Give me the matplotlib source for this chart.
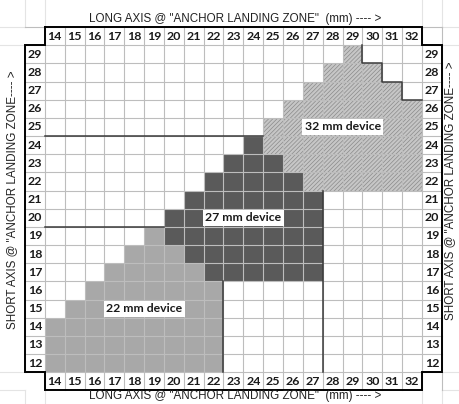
import matplotlib
matplotlib.use("Agg")
import matplotlib.pyplot as plt

# long axis columns (mm) and short axis rows (mm)
long_ticks = list(range(14, 33))
short_ticks = list(range(12, 30))

# 22 mm device cells: row -> first..last column
light_rows = [12, 13, 14, 15, 16, 17, 18, 19]
light_start = [14, 14, 14, 15, 16, 17, 18, 19]
light_end = [22, 22, 22, 22, 22, 21, 20, 19]

# 27 mm device cells
dark_rows = [17, 18, 19, 20, 21, 22, 23, 24]
dark_start = [22, 21, 20, 20, 21, 22, 23, 24]
dark_end = [27, 27, 27, 27, 27, 26, 25, 24]

# 32 mm device cells
hatch_rows = [22, 23, 24, 25, 26, 27, 28, 29]
hatch_start = [27, 26, 25, 25, 26, 27, 28, 29]
hatch_end = [32, 32, 32, 32, 32, 31, 30, 29]

devices = ["22 mm device", "27 mm device", "32 mm device"]
device_pos = [(18.5, 15), (23.5, 20), (28.5, 25)]

long_title = 'LONG AXIS @ "ANCHOR LANDING ZONE"  (mm) ---- >'
short_title = 'SHORT AXIS @ "ANCHOR LANDING ZONE---- >'

plt.rcParams['hatch.color'] = '#8a8a8a'
plt.rcParams['hatch.linewidth'] = 0.5

fig = plt.figure(figsize=(4.59, 4.04), dpi=100)
ax = fig.add_axes([0, 0, 1, 1])
ax.set_xlim(11.241, 34.364)
ax.set_ylim(9.752, 31.986)
ax.axis('off')

x0, x1 = long_ticks[0] - 0.5, long_ticks[-1] + 0.5
y0, y1 = short_ticks[0] - 0.5, short_ticks[-1] + 0.5

# faint spreadsheet gridlines outside the table
faint = '#e4e4e4'
for xv in [x0 - 1, x0, x1, x1 + 1]:
    ax.plot([xv, xv], [y1 + 1, 31.986], color=faint, lw=0.8, zorder=0)
    ax.plot([xv, xv], [9.752, y0 - 1], color=faint, lw=0.8, zorder=0)
for yv in [y1 + 1, y1, y0, y0 - 1]:
    ax.plot([11.241, x0 - 1], [yv, yv], color=faint, lw=0.8, zorder=0)
    ax.plot([x1 + 1, 34.364], [yv, yv], color=faint, lw=0.8, zorder=0)

# filled device areas
ax.barh(light_rows, [e - s + 1 for s, e in zip(light_start, light_end)],
        left=[s - 0.5 for s in light_start], height=1, color='#a8a8a8', zorder=1)
ax.barh(dark_rows, [e - s + 1 for s, e in zip(dark_start, dark_end)],
        left=[s - 0.5 for s in dark_start], height=1, color='#5a5a5a', zorder=1)
ax.barh(hatch_rows, [e - s + 1 for s, e in zip(hatch_start, hatch_end)],
        left=[s - 0.5 for s in hatch_start], height=1, color='#c6c6c6',
        hatch='////////', lw=0, zorder=1)

# cell grid (including header row/column)
grid = '#bdbdbd'
for xv in range(int(x0), int(x1) + 2):
    ax.plot([xv + 0.5, xv + 0.5], [y0 - 1, y1 + 1], color=grid, lw=0.8, zorder=2)
ax.plot([x0 - 1, x0 - 1], [y0, y1], color=grid, lw=0.8, zorder=2)
for yv in range(int(y0), int(y1) + 2):
    ax.plot([x0 - 1, x1 + 1], [yv + 0.5, yv + 0.5], color=grid, lw=0.8, zorder=2)

# region boundary lines
line_kw = dict(color='#3a3a3a', lw=1.1, zorder=3)
ax.plot([x0, 24.5], [24.5, 24.5], **line_kw)
ax.plot([x0, 19.5], [19.5, 19.5], **line_kw)
ax.plot([22.5, 22.5], [y0, 16.5], **line_kw)
ax.plot([27.5, 27.5], [y0, 21.5], **line_kw)
ax.plot([29.5, 29.5, 30.5, 30.5, 31.5, 31.5, 32.5],
        [29.5, 28.5, 28.5, 27.5, 27.5, 26.5, 26.5], **line_kw)

# outer frame
fx = [x0, x1, x1, x1 + 1, x1 + 1, x1, x1, x0, x0, x0 - 1, x0 - 1, x0, x0]
fy = [y1 + 1, y1 + 1, y1, y1, y0, y0, y0 - 1, y0 - 1, y0, y0, y1, y1, y1 + 1]
ax.plot(fx, fy, color='black', lw=1.4, zorder=4, solid_joinstyle='miter')

num_kw = dict(fontsize=8.9, fontweight='bold', family='Lato', color='#1a1a1a',
              ha='center', va='center', zorder=5)
for c in long_ticks:
    ax.text(c, y1 + 0.5, str(c), **num_kw)
    ax.text(c, y0 - 0.5, str(c), **num_kw)
for r in short_ticks:
    ax.text(x0 - 0.5, r, str(r), **num_kw)
    ax.text(x1 + 0.5, r, str(r), **num_kw)

for name, (px, py) in zip(devices, device_pos):
    ax.text(px, py, name, fontsize=8.8, fontweight='bold', family='Lato',
            color='#1a1a1a', ha='center', va='center', zorder=6,
            bbox=dict(boxstyle='square,pad=0.2', fc='white', ec='none'))

title_kw = dict(fontsize=8.4, family='Liberation Sans', color='#222222', zorder=6)
ax.text(23.1, 30.94, long_title, ha='center', va='center', **title_kw)
ax.text(23.1, 10.0, long_title, ha='center', va='baseline', **title_kw)
ax.text(11.84, 21.0, short_title, rotation=90, ha='center', va='center', **title_kw)
ax.text(33.9, 21.5, short_title, rotation=90, ha='center', va='center', **title_kw)

fig.savefig('out.png', dpi=100)
